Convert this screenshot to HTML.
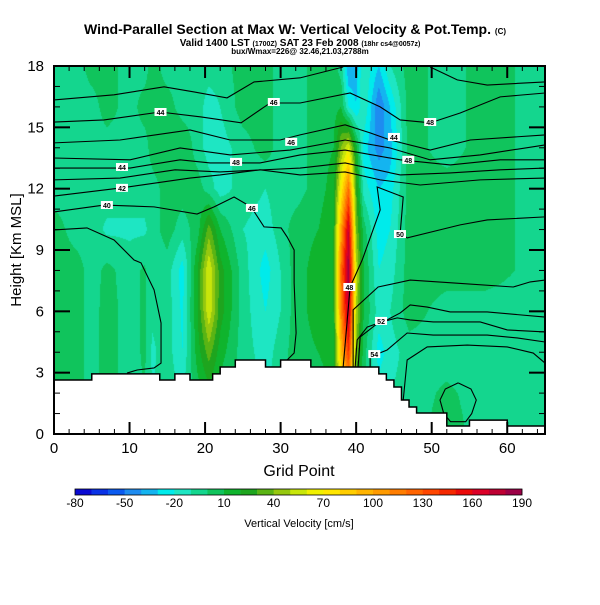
<!DOCTYPE html>
<html><head><meta charset="utf-8"><style>
body{margin:0;background:#fff;width:600px;height:600px;overflow:hidden}
svg text{font-family:"Liberation Sans",sans-serif}
</style></head><body>
<svg id="chart" width="600" height="600" viewBox="0 0 600 600">
<text x="295" y="34" text-anchor="middle" font-size="14" font-weight="bold">Wind-Parallel Section at Max W: Vertical Velocity &amp; Pot.Temp. <tspan font-size="8">(C)</tspan></text>
<text x="300" y="46" text-anchor="middle" font-size="10" font-weight="bold">Valid 1400 LST <tspan font-size="7">(1700Z)</tspan> SAT 23 Feb 2008 <tspan font-size="7">(18hr cs4@0057z)</tspan></text>
<text x="300" y="54" text-anchor="middle" font-size="8" font-weight="bold">bux/Wmax=226@ 32.46,21.03,2788m</text>
<foreignObject x="54" y="66" width="491" height="368"><canvas id="field" width="491" height="368" xmlns="http://www.w3.org/1999/xhtml" style="display:block"></canvas></foreignObject>
<g id="overlay"></g>
<text x="299" y="476" text-anchor="middle" font-size="16">Grid Point</text>
<text transform="translate(21,250) rotate(-90)" text-anchor="middle" font-size="15">Height [Km MSL]</text>
<g id="cbar"></g>
<text x="299" y="527" text-anchor="middle" font-size="11">Vertical Velocity [cm/s]</text>
</svg>
<script>
const xs=[0,3,5,7,10,12,13,15,17,19,20.5,22,25,28,30,32,35,37,38,39,40,41,43,44.5,47,52,57,65];
const hs=[0,2,4,6,8,10,12,14,16,18];
const w0=[-5,-5,-5,-5,-5,-5,-5,-5,-5,-5,-5,-5,-5,-5,-5,-5,-5,-5,-5,-5,-5,-5,-5,-5,-5,5,-5,-5];
const w2=[5,5,-5,5,-5,0,-10,-5,-10,5,15,5,-5,-10,-5,5,5,10,60,90,20,0,-15,-10,-5,2,-5,-5];
const w4=[5,5,-5,5,-5,2,-12,-5,-20,15,35,15,-5,-15,-5,5,10,15,90,140,40,5,-25,-15,-5,-5,-5,-5];
const w6=[5,5,-5,5,-5,2,-8,-5,-22,20,58,25,-5,-20,-10,5,15,20,110,175,50,10,-15,-10,5,-5,-5,-5];
const w8=[5,5,-5,3,-5,2,-8,-5,-25,20,60,25,-5,-25,-10,5,15,20,120,185,55,10,-20,-15,5,5,5,-5];
const w10=[5,-5,-5,-12,-12,-12,-5,5,-5,5,35,10,-10,-15,-5,5,10,20,100,170,40,5,-25,-20,5,5,5,-5];
const w12=[-5,-5,-5,-5,-5,-5,-5,5,5,5,-5,-15,-5,-10,-5,-5,5,15,70,120,30,-15,-30,-25,5,5,5,-5];
const w14=[-5,-5,-5,-5,-5,-5,5,10,10,-5,-15,-15,-5,5,-5,-5,5,10,40,60,15,-25,-45,-35,5,-5,5,-5];
const w16=[-5,-5,-5,5,-5,5,5,5,-5,-5,-15,-10,5,5,-5,-5,5,5,10,-20,-30,-10,-50,-30,5,-5,5,-5];
const w18=[-5,-5,5,5,-5,-5,5,-5,-5,-5,-5,-5,5,5,-5,-5,5,5,-5,-40,-35,-10,-30,-10,5,-5,5,-5];
const terrain=[2.64,2.64,2.64,2.64,2.64,2.94,2.94,2.94,2.94,2.94,2.94,2.94,2.94,2.94,2.64,2.64,2.94,2.94,2.64,2.64,2.64,2.94,3.28,3.28,3.62,3.62,3.62,3.62,3.28,3.28,3.62,3.62,3.62,3.62,3.28,3.28,3.28,3.28,3.28,3.28,3.28,3.28,3.28,2.94,2.64,2.3,1.66,1.32,1.03,1.03,1.03,1.03,0.39,0.39,0.39,0.68,0.68,0.68,0.68,0.68,0.39,0.39,0.39,0.39,0.39];
const cbLevels=[-80,-70,-60,-50,-40,-30,-20,-10,0,10,20,30,40,50,60,70,80,90,100,110,120,130,140,150,160,170,180,190];
const cbTicks=[-80,-50,-20,10,40,70,100,130,160,190];
const cbColors=['#0a0ad2','#0a32e6','#0a5af0','#1e8cf0','#14b4f0','#00ebeb','#1ee6c3','#14d68e','#10c45c','#0fb42d','#1ea51e','#5ab414','#96c80f','#c8e60a','#f0f000','#ffe600','#ffcd00','#ffb400','#ff9b00','#ff7d00','#ff6400','#ff4600','#f52800','#eb0a0a','#dc0028','#be0032','#9b0046'];
const xTicks=[0,10,20,30,40,50,60];
const yTicks=[0,3,6,9,12,15,18];
const c1=[[0,16.34],[7.95,16.59],[14.57,16.98],[18.54,16.73],[22.91,16.44],[26.49,17.22],[32.58,17.42],[38.28,17.95]];
const c1b=[[49.8,17.95],[53.38,17.32],[57.35,17.07],[65,17.22]];
const c2=[[0,15.26],[6.62,15.36],[14.04,15.75],[19.47,15.51],[24.77,15.22],[28.6,16.19],[32.58,16.19],[39.2,16.68],[43.18,16.0],[45.83,15.36],[49.8,15.22],[53.77,15.7],[59.07,16.49],[65,16.68]];
const c3=[[0,14.24],[8.74,14.38],[18,14.87],[23.31,14.38],[29.93,14.38],[32.58,14.63],[38.54,15.12],[41.85,14.73],[44.5,14.38],[49.8,13.89],[55.1,14.38],[65,14.63]];
const c4=[[0,13.5],[10.07,13.41],[16.69,13.99],[23.31,13.65],[31.26,13.89],[38.54,14.38],[44.5,13.99],[49.8,13.41],[56.42,13.65],[65,14.14]];
const c5=[[0,13.01],[10.07,13.01],[16.69,13.41],[20.66,13.26],[27.28,13.26],[32.58,13.65],[38.54,13.89],[45.83,13.41],[52.45,13.16],[59.07,13.41],[65,13.41]];
const c6=[[0,12.43],[8.74,12.52],[16.03,12.92],[21.99,12.82],[32.58,13.01],[38.54,13.26],[45.83,12.67],[52.45,12.77],[59.07,12.92],[65,13.01]];
const c7=[[0,11.64],[9.0,12.04],[18,12.52],[21.99,12.67],[27.28,12.92],[32.58,12.67],[38.54,12.82],[43.18,12.43],[48.48,12.18],[56.42,12.43],[65,12.52]];
const c8=[[0,10.86],[6.62,11.2],[13.25,11.11],[18.94,10.76],[21.19,11.11],[23.84,11.59],[26.09,11.11],[27.81,10.13],[30.07,10.08],[30.86,9.64],[31.79,9.0],[31.79,7.39],[32.05,4.94],[31.79,3.96],[30.86,3.62]];
const c9=[[0,9.98],[4.37,10.08],[7.95,9.49],[10.6,8.51],[11.52,8.37],[13.25,7.05],[14.17,5.43],[14.17,3.47],[13.25,3.23],[11.0,3.13],[9.67,2.98]];
const c10=[[65,10.62],[57.35,10.47],[53.77,10.23],[46.75,9.59],[45.83,9.83],[46.23,11.59],[42.78,12.08],[43.18,10.96],[40.8,8.51],[39.2,7.19],[38.28,3.28]];
const c11=[[39.6,3.28],[39.6,6.07],[42.91,7.19],[47.15,7.53],[52.85,7.39],[60.8,7.19],[63.05,7.44],[65,7.53]];
const c12=[[39.87,3.28],[40.13,4.6],[41.46,5.23],[44.1,5.58],[45.83,5.92],[47.15,6.31],[49.4,6.21],[52.45,5.97],[57.35,5.97],[65,5.72]];
const c13=[[40.26,3.28],[40.53,4.75],[42.91,5.43],[45.43,5.68],[47.15,5.58],[50.2,5.48],[56.42,5.48],[60,5.09],[65,4.99]];
const c14=[[41.85,3.28],[41.85,3.77],[44.1,4.11],[46.75,4.94],[50.2,4.84],[57.35,4.84],[61.32,4.7],[65,4.5]];
const c15=[[46.23,1.66],[46.75,3.62],[49.4,4.26],[54.7,4.35],[60,4.26],[63.44,3.96],[65,3.47]];
const c16=[[53.5,2.5],[55.2,2.2],[55.9,1.66],[55.3,1.0],[54.5,0.6],[52.5,0.6],[51.6,1.0],[51.1,1.66],[51.8,2.2],[53.5,2.5]];
const labelText=['44','46','46','48','44','42','40','46','48','44','48','50','48','52','54'];
const labelX=[14.1,29.1,31.4,24.1,9.0,9.0,7.0,26.2,49.8,45.0,46.9,45.8,39.1,43.3,42.4];
const labelH=[15.75,16.24,14.29,13.31,13.06,12.04,11.2,11.06,15.26,14.53,13.41,9.78,7.19,5.53,3.91];

const X0=54,X1=545,Y0=434,Y1=66,XMAX=65,HMAX=18;
const sx=v=>X0+(X1-X0)*v/XMAX;
const sy=v=>Y0-(Y0-Y1)*v/HMAX;
const NS='http://www.w3.org/2000/svg';
const grid=[w0,w2,w4,w6,w8,w10,w12,w14,w16,w18];
function idx(arr,v){let i=0;while(i<arr.length-2&&v>arr[i+1])i++;return i;}
function val(g,h){
  const i=idx(xs,g),j=idx(hs,h);
  const tx=Math.max(0,Math.min(1,(g-xs[i])/(xs[i+1]-xs[i])));
  const ty=Math.max(0,Math.min(1,(h-hs[j])/(hs[j+1]-hs[j])));
  const a=grid[j][i],b=grid[j][i+1],c=grid[j+1][i],d=grid[j+1][i+1];
  return (a*(1-tx)+b*tx)*(1-ty)+(c*(1-tx)+d*tx)*ty;
}
function hex(c){return [parseInt(c.slice(1,3),16),parseInt(c.slice(3,5),16),parseInt(c.slice(5,7),16)];}
const rgb=cbColors.map(hex);
const cv=document.getElementById('field');
const ctx=cv.getContext('2d');
const W=cv.width,H=cv.height;
const img=ctx.createImageData(W,H);
for(let py=0;py<H;py++){
  const h=HMAX*(H-py-0.5)/H;
  for(let px=0;px<W;px++){
    const g=XMAX*(px+0.5)/W;
    const v=val(g,h);
    let k=Math.floor((v-cbLevels[0])/10);k=Math.max(0,Math.min(rgb.length-1,k));
    const o=(py*W+px)*4;img.data[o]=rgb[k][0];img.data[o+1]=rgb[k][1];img.data[o+2]=rgb[k][2];img.data[o+3]=255;
  }
}
ctx.putImageData(img,0,0);

const ov=document.getElementById('overlay');
function mk(tag,attrs,parent){const e=document.createElementNS(NS,tag);for(const k in attrs)e.setAttribute(k,attrs[k]);(parent||ov).appendChild(e);return e;}
const contours=[c1,c1b,c2,c3,c4,c5,c6,c7,c8,c9,c10,c11,c12,c13,c14,c15,c16];
contours.forEach((c,i)=>{
  const p=mk('polyline',{points:c.map(q=>sx(q[0])+','+sy(q[1])).join(' '),fill:'none',stroke:'#000','stroke-width':'1.1'});
  
  
});
let d='M'+sx(0)+','+sy(0);
terrain.forEach((t,i)=>{d+=' L'+sx(i)+','+sy(t)+' L'+sx(i+1)+','+sy(t);});
d+=' L'+sx(XMAX)+','+sy(0)+' Z';
const tp=mk('path',{d:d,fill:'#fff',stroke:'#000','stroke-width':'1.5'});


labelText.forEach((t,i)=>{
  const x=sx(labelX[i]),y=sy(labelH[i]);
  const r=mk('rect',{x:x-6,y:y-4,width:12,height:8,fill:'#fff'});
  
  
  const tx=mk('text',{x:x,y:y+3,'text-anchor':'middle','font-size':'7','font-weight':'bold'});
  tx.textContent=t;
  
  
});
const fr=mk('rect',{x:X0,y:Y1,width:X1-X0,height:Y0-Y1,fill:'none',stroke:'#000','stroke-width':'2'});


for(let g=0;g<=XMAX;g+=2){
  const len=(g%10===0)?12:5;
  mk('line',{x1:sx(g),x2:sx(g),y1:Y0,y2:Y0-len,stroke:'#000','stroke-width':g%10===0?2:1});
  mk('line',{x1:sx(g),x2:sx(g),y1:Y1,y2:Y1+len,stroke:'#000','stroke-width':g%10===0?2:1});
}
for(let h=0;h<=HMAX;h+=1){
  const major=h%3===0,len=major?16:6;
  mk('line',{x1:X0,x2:X0+len,y1:sy(h),y2:sy(h),stroke:'#000','stroke-width':major?2:1});
  mk('line',{x1:X1,x2:X1-len,y1:sy(h),y2:sy(h),stroke:'#000','stroke-width':major?2:1});
}
xTicks.forEach(t=>{
  const e=mk('text',{x:sx(t),y:453,'text-anchor':'middle','font-size':'15'});
  e.textContent=t;
  
  
});
yTicks.forEach(t=>{
  const e=mk('text',{x:44,y:sy(t)+5,'text-anchor':'end','font-size':'15'});
  e.textContent=t;
  
  
});
const cb=document.getElementById('cbar');
const CB0=75,CB1=522,cbx=v=>CB0+(CB1-CB0)*(v-cbLevels[0])/(cbLevels[cbLevels.length-1]-cbLevels[0]);
cbColors.forEach((c,i)=>{
  const r=mk('rect',{x:cbx(cbLevels[i]),y:489,width:cbx(cbLevels[i+1])-cbx(cbLevels[i])+0.3,height:6,fill:c},cb);
  
  
});
const cbf=mk('rect',{x:CB0,y:489,width:CB1-CB0,height:6,fill:'none',stroke:'#000','stroke-width':'0.8'},cb);


cbTicks.forEach(t=>{
  const e=mk('text',{x:cbx(t),y:507,'text-anchor':'middle','font-size':'12'},cb);
  e.textContent=t;
  
  
});
</script>
</body></html>
